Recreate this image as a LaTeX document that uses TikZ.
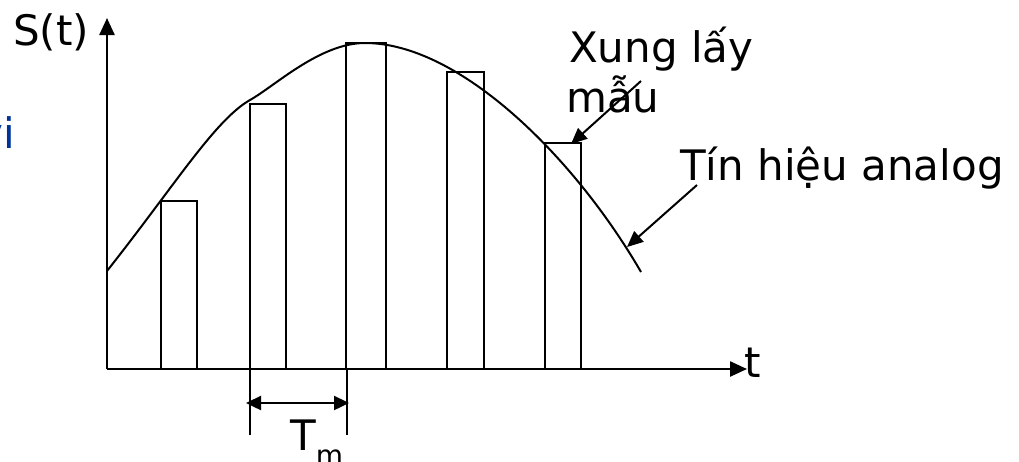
\documentclass[tikz,border=0pt]{standalone}
\usepackage{fontspec}
\setmainfont{DejaVu Sans}
\usetikzlibrary{arrows.meta}
\definecolor{fragblue}{RGB}{0,51,153}
\begin{document}
\begin{tikzpicture}[x=1pt,y=-1pt,
  line/.style={line width=2pt},
  axis/.style={line width=2.4pt,-{Triangle[length=17pt,width=15pt]}},
  pointer/.style={line width=2pt,-{Triangle[length=16pt,width=14pt]}},
  dim/.style={line width=2.4pt,{Triangle[length=15pt,width=14pt]}-{Triangle[length=15pt,width=14pt]}},
  lbl/.style={inner sep=0pt, anchor=base west, font=\fontsize{42}{49}\selectfont},
]
\useasboundingbox (0,0) rectangle (1019,461);
% fragment of clipped blue text
\node[lbl, text=fragblue] (frag) at (-22,148) {vi};
% axes
\coordinate (O) at (107,369);
\coordinate (ytop) at (107,18);
\coordinate (xend) at (747,369);
\draw[axis] (O) -- (ytop);
\draw[axis] (O) -- (xend);
% sampling pulses
\draw[line] (161,369) |- (197,201) -- (197,369);
\draw[line] (250,369) |- (286,104) -- (286,369);
\draw[line] (346,369) |- (386,43) -- (386,369);
\draw[line] (447,369) |- (484,72) -- (484,369);
\draw[line] (545,369) |- (581,143) -- (581,369);
% analog signal
\draw[line] (107,271) .. controls (175,185) and (215,120) .. (250,100)
  .. controls (275,86) and (320,43) .. (365,43)
  .. controls (460,43) and (575,158) .. (641,272);
% labels
\node[lbl] (S) at (13,45) {S(t)};
\node[lbl] (t) at (744,377) {t};
\node[lbl] (xung1) at (569,62) {Xung lấy};
\node[lbl] (xung2) at (566,112) {mẫu};
\node[lbl] (tin) at (680,180) {Tín hiệu analog};
\node[lbl] (Tm) at (290,450) {T\raisebox{-15pt}{\fontsize{28}{28}\selectfont m}};
% pointers
\coordinate (p1s) at (641,81);
\coordinate (p1e) at (571,144);
\draw[pointer] (p1s) -- (p1e);
\coordinate (p2s) at (697,185);
\coordinate (p2e) at (627,247);
\draw[pointer] (p2s) -- (p2e);
% period dimension
\coordinate (e1a) at (250,369);
\coordinate (e1b) at (250,435);
\coordinate (e2a) at (347,369);
\coordinate (e2b) at (347,435);
\draw[line] (e1a) -- (e1b);
\draw[line] (e2a) -- (e2b);
\coordinate (d1) at (246,403);
\coordinate (d2) at (349,403);
\draw[dim] (d1) -- (d2);
\end{tikzpicture}
\end{document}
